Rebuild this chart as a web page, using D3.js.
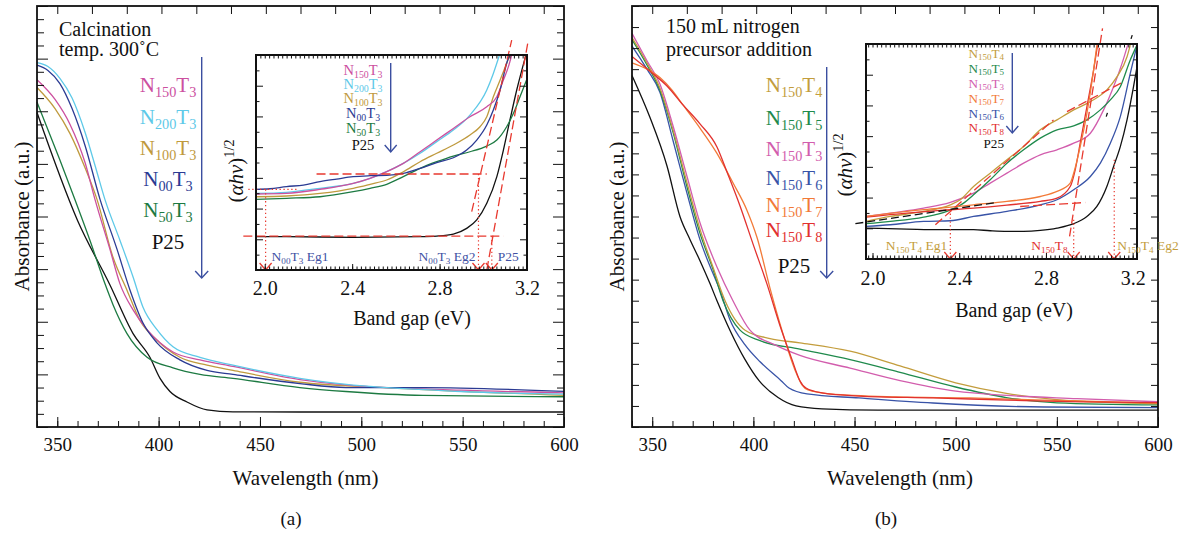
<!DOCTYPE html>
<html>
<head>
<meta charset="utf-8">
<script src="https://cdn.jsdelivr.net/npm/d3@7/dist/d3.min.js"></script>
<style>
  body { margin: 0; background: #fff; }
  svg, svg text, svg tspan { font-family: "Liberation Serif", "Times New Roman", serif; }
</style>
</head>
<body>
<svg id="chart" width="1181" height="533"></svg>
<script>
// ---- tick labels ----
const wlTicks = [350, 400, 450, 500, 550, 600];
const topTicks = [350, 367.1, 384.3, 401.4, 418.6, 435.7, 452.9, 470, 487.1, 504.3, 521.4, 538.6, 555.7, 572.9, 590];
const egTicks = [2.0, 2.4, 2.8, 3.2];

// ---- panel (a): wavelength (nm), absorbance (a.u.) ----
const a_P25 = [[340,2.39],[360,1.57],[376,1.08],[387.4,0.71],[395.7,0.53],[400.7,0.37],[405.6,0.27],[414,0.19],[423.9,0.13],[436.7,0.115],[469.7,0.114],[519,0.114],[600,0.114]];
const a_N50T3 = [[340,2.47],[351.3,2.03],[358.7,1.73],[366.1,1.42],[373.5,1.09],[377.5,0.93],[384.4,0.71],[394.3,0.53],[407.1,0.45],[420.4,0.40],[436.7,0.37],[469.7,0.30],[492.4,0.27],[530.4,0.24],[600,0.23]];
const a_N150T3 = [[340,2.64],[348.9,2.49],[356.3,2.30],[363.7,2.01],[368.6,1.73],[376,1.35],[380.9,1.09],[387.4,0.89],[394.3,0.74],[400.7,0.64],[407.1,0.57],[420.4,0.51],[436.7,0.46],[469.7,0.36],[492.4,0.32],[549.2,0.28],[600,0.26]];
const a_N100T3 = [[340,2.58],[348.9,2.42],[356.3,2.23],[363.7,1.97],[369.6,1.73],[377.5,1.29],[384.4,1.04],[390.8,0.81],[399.2,0.66],[410.5,0.53],[423.9,0.47],[436.7,0.43],[469.7,0.34],[511.7,0.30],[600,0.24]];
const a_N00T3 = [[340,2.75],[345.4,2.71],[351.3,2.61],[357.3,2.42],[363.7,2.14],[371.1,1.73],[379.5,1.35],[385.9,1.04],[392.3,0.79],[399.2,0.64],[410.5,0.51],[423.9,0.43],[436.7,0.40],[469.7,0.33],[492.4,0.30],[530.4,0.30],[600,0.27]];
const a_N200T3 = [[340,2.77],[345.4,2.74],[351.3,2.65],[357.3,2.50],[363.7,2.24],[368.6,1.99],[373.5,1.73],[380.9,1.42],[387.4,1.14],[392.3,0.91],[399.2,0.74],[407.1,0.61],[420.4,0.53],[436.7,0.47],[469.7,0.37],[549.2,0.27],[600,0.25]];

// panel (a) inset: band gap (eV), (alpha h nu)^1/2
const ai_N00T3 = [[1.96,5.25],[2.024,5.29],[2.100,5.43],[2.177,5.53],[2.253,5.75],[2.329,5.92],[2.405,6.08],[2.482,6.14],[2.558,6.16],[2.634,6.29],[2.711,6.62],[2.787,6.99],[2.863,7.31],[2.924,7.81],[2.970,8.46],[3.016,9.44],[3.046,10.42],[3.077,11.72],[3.107,13.46],[3.119,14.0]];
const ai_N150T3 = [[1.96,4.95],[2.100,4.99],[2.253,5.25],[2.405,5.64],[2.482,5.97],[2.558,6.40],[2.634,6.94],[2.711,7.70],[2.787,8.46],[2.863,9.22],[2.939,9.98],[3.016,10.63],[3.062,11.28],[3.092,12.37],[3.115,13.24],[3.130,14.0]];
const ai_N200T3 = [[1.96,4.99],[2.100,5.06],[2.253,5.32],[2.405,5.64],[2.482,5.97],[2.558,6.40],[2.634,6.94],[2.711,7.60],[2.787,8.36],[2.863,9.11],[2.939,10.09],[3.016,11.72],[3.046,12.80],[3.074,14.0]];
const ai_N100T3 = [[1.96,4.77],[2.100,4.82],[2.253,4.99],[2.405,5.32],[2.482,5.58],[2.558,5.86],[2.634,6.40],[2.711,7.05],[2.787,7.60],[2.863,8.14],[2.939,8.79],[2.985,9.33],[3.016,9.98],[3.046,11.28],[3.077,12.37],[3.107,13.46],[3.122,14.0]];
const ai_N50T3 = [[1.96,4.60],[2.100,4.67],[2.253,4.77],[2.405,5.10],[2.482,5.32],[2.558,5.58],[2.634,6.08],[2.711,6.62],[2.787,7.05],[2.863,7.42],[2.939,7.70],[3.016,8.07],[3.062,8.46],[3.107,9.33],[3.138,10.20],[3.168,11.28],[3.198,12.37]];
const ai_P25 = [[1.96,2.17],[2.100,2.17],[2.405,2.13],[2.711,2.17],[2.787,2.21],[2.863,2.34],[2.924,2.71],[2.970,3.26],[3.016,4.34],[3.062,6.08],[3.092,7.81],[3.122,9.77],[3.153,11.72],[3.195,14.0]];
const ai_dashed = [[[1.902,2.21],[3.092,2.21]], [[2.237,6.25],[3.016,6.25]], [[2.947,3.80],[3.130,14.97]], [[3.016,0],[3.206,14.97]]];
const ai_dotted = [[[1.925,5.25],[2.146,5.25]], [[2.004,5.25],[2.004,0]], [[2.978,6.25],[2.978,0]], [[3.039,2.21],[3.039,0]]];
const ai_eg = [2.004, 2.978, 3.039];

// ---- panel (b) ----
const b_P25 = [[340,1.67],[348.9,1.47],[357.3,1.24],[363.7,1.00],[368.7,0.89],[373.6,0.79],[378.6,0.68],[382,0.60],[388.4,0.46],[395.9,0.32],[402.8,0.22],[412.2,0.14],[421.1,0.10],[433.9,0.086],[461.6,0.08],[600,0.08]];
const b_N150T6 = [[340,1.81],[347.4,1.70],[353.8,1.59],[360.3,1.36],[367.2,1.11],[373.6,0.89],[380,0.73],[383.5,0.65],[388.4,0.51],[395.9,0.39],[403.3,0.31],[413.7,0.22],[417.6,0.185],[426.5,0.157],[452.2,0.138],[488.8,0.114],[543.7,0.095],[600,0.092]];
const b_N150T5 = [[340,1.84],[347.4,1.72],[353.8,1.60],[360.3,1.40],[367.2,1.14],[373.6,0.92],[380,0.75],[385,0.60],[393.4,0.46],[403.3,0.41],[423,0.37],[447.8,0.32],[472.5,0.26],[500,0.19],[525,0.14],[550,0.115],[600,0.105]];
const b_N150T4 = [[340,1.85],[347.4,1.73],[353.8,1.61],[360.3,1.41],[367.2,1.16],[373.6,0.94],[380,0.76],[386,0.60],[395.9,0.46],[408.2,0.42],[423,0.40],[447.8,0.36],[472.5,0.29],[500,0.21],[525,0.16],[550,0.13],[600,0.11]];
const b_N150T3 = [[340,1.87],[347.4,1.74],[353.8,1.63],[360.3,1.43],[367.2,1.19],[373.6,0.97],[382,0.76],[389.9,0.60],[398.3,0.46],[410.7,0.39],[423,0.34],[447.8,0.28],[472.5,0.22],[500,0.17],[525,0.15],[560,0.135],[600,0.12]];
const b_N150T8 = [[340,1.76],[348.9,1.69],[357.3,1.62],[365.2,1.53],[373.6,1.44],[382,1.33],[387,1.21],[393.4,1.05],[399.8,0.87],[406.7,0.68],[413.2,0.48],[419.1,0.32],[423,0.22],[426,0.185],[433.9,0.162],[452.2,0.147],[488.8,0.138],[525.4,0.128],[561.9,0.119],[600,0.116]];
const b_N150T7 = [[340,1.73],[347.4,1.70],[353.8,1.66],[359.8,1.60],[365.2,1.53],[373.6,1.42],[382,1.30],[389.9,1.16],[396.8,1.03],[401.8,0.90],[408.2,0.66],[414.1,0.46],[420.6,0.27],[424,0.20],[427,0.176],[437.9,0.157],[470.5,0.143],[507.1,0.138],[543.7,0.128],[600,0.113]];

// panel (b) inset
const bi_P25 = [[1.970,2.01],[2.159,1.95],[2.313,1.91],[2.466,1.91],[2.543,1.84],[2.620,1.80],[2.697,1.80],[2.774,1.86],[2.851,2.01],[2.928,2.30],[2.989,2.77],[3.035,3.42],[3.081,4.72],[3.112,6.02],[3.143,7.32],[3.174,9.06],[3.204,11.22],[3.220,12.52]];
const bi_N150T6 = [[1.970,2.12],[2.082,2.23],[2.236,2.45],[2.359,2.49],[2.466,2.77],[2.620,3.10],[2.774,3.53],[2.851,3.86],[2.928,4.51],[3.005,5.37],[3.051,6.24],[3.097,7.54],[3.143,9.27],[3.189,12.09],[3.220,13.93]];
const bi_N150T3 = [[1.970,2.77],[2.082,2.99],[2.236,3.31],[2.359,3.68],[2.466,4.29],[2.543,4.94],[2.620,5.59],[2.697,6.24],[2.774,6.78],[2.851,7.11],[2.928,7.54],[3.005,8.19],[3.066,9.71],[3.112,11.22],[3.151,12.74],[3.177,13.93]];
const bi_N150T5 = [[1.970,2.30],[2.082,2.45],[2.236,2.73],[2.343,3.10],[2.420,3.64],[2.466,4.18],[2.543,5.16],[2.620,6.24],[2.697,7.11],[2.774,7.87],[2.851,8.41],[2.928,8.67],[2.989,9.06],[3.051,9.71],[3.097,10.36],[3.143,11.22],[3.189,12.96],[3.220,13.93]];
const bi_N150T4 = [[1.970,2.45],[2.082,2.77],[2.236,3.10],[2.359,3.53],[2.405,3.86],[2.466,4.72],[2.543,5.59],[2.620,6.46],[2.697,7.32],[2.774,8.41],[2.851,9.06],[2.928,9.71],[3.005,10.25],[3.081,11.01],[3.128,11.87],[3.174,13.17],[3.189,13.93]];
const bi_N150T7 = [[1.970,2.77],[2.159,3.10],[2.313,3.31],[2.466,3.53],[2.620,3.75],[2.774,4.07],[2.851,4.40],[2.912,4.94],[2.928,5.59],[2.958,7.32],[2.989,9.49],[3.020,12.31],[3.035,13.93]];
const bi_N150T8 = [[1.970,2.73],[2.159,2.99],[2.313,3.16],[2.466,3.31],[2.620,3.51],[2.774,3.75],[2.851,3.96],[2.912,4.72],[2.935,5.81],[2.958,7.54],[2.989,9.92],[3.020,12.31],[3.038,13.93]];
const bi_dashed = [[[2.290,2.23],[2.835,9.06]], [[2.897,9.60],[3.159,11.55]], [[2.909,1.47],[3.061,15.02]], [[2.681,3.42],[2.981,3.68]]];
const bi_blackDashed = [[1.921,2.30],[2.574,3.68]];
const bi_blackTangent = [[3.078,9.27],[3.198,14.58]];
const bi_dotted = [[[2.359,3.21],[2.359,0]], [[2.928,2.56],[2.928,0]], [[3.115,6.46],[3.115,0]]];
const bi_eg = [2.359, 2.928, 3.115];

// ---- colours ----
const cMag = '#cc509f', cCyan = '#5ec9e8', cGold = '#bf9a3e', cNavy = '#2b3b93', cGreen = '#1d7a42', cBlack = '#111';
const cT4 = '#c39d3d', cT5 = '#1f8a4c', cT3 = '#d25dad', cT6 = '#3853a7', cT7 = '#f27a38', cT8 = '#e2312f';
const cRed = '#e8392f', cArrow = '#3b4fa0';
const serif = '"Liberation Serif", "Times New Roman", serif';

const svg = d3.select('#chart').style('font-family', serif);

// text with _{sub}, ^{sup}, ~{italic}
function rich(text, label, fs) {
  const re = /([_^~])\{([^}]*)\}|([^_^~]+)/g;
  let m, off = 0;
  text.style('font-family', serif);
  while ((m = re.exec(label)) !== null) {
    let shift = 0, size = fs, italic = false, t = m[3];
    if (m[1] === '_') { shift = fs * 0.22; size = fs * 0.68; t = m[2]; }
    else if (m[1] === '^') { shift = -fs * 0.42; size = fs * 0.68; t = m[2]; }
    else if (m[1] === '~') { italic = true; t = m[2]; }
    text.append('tspan').attr('dy', shift - off).style('font-size', size + 'px')
      .style('font-style', italic ? 'italic' : null).text(t);
    off = shift;
  }
}

function label(g, x, y, str, size, anchor) {
  return g.append('text').attr('x', x).attr('y', y).attr('text-anchor', anchor || 'start')
    .style('font-family', serif).style('font-size', size + 'px').attr('fill', '#111').text(str);
}

function arrowDown(g, x, ya, yb, color, hw, hh) {
  g.append('line').attr('x1', x).attr('x2', x).attr('y1', ya).attr('y2', yb)
    .attr('stroke', color).attr('stroke-width', 1.4);
  g.append('path').attr('d', `M${x - hw},${yb - hh}L${x},${yb}L${x + hw},${yb - hh}`)
    .attr('fill', 'none').attr('stroke', color).attr('stroke-width', 1.4);
}

function noDomain(s) { s.select('.domain').remove(); s.attr('color', '#111').attr('font-family', null); }

function drawMain(cfg) {
  const g = svg.append('g');
  const x = cfg.x, y = cfg.y;
  const [x0, x1] = x.range(), [y1, y0] = y.range();
  const line = d3.line().x(d => x(d[0])).y(d => y(d[1])).curve(d3.curveMonotoneX);
  g.selectAll(null).data(cfg.series).join('path')
    .attr('d', d => line(d.values)).attr('fill', 'none')
    .attr('stroke', d => d.color).attr('stroke-width', 1.3);

  // ticks
  g.append('g').attr('transform', `translate(0,${y1})`)
    .call(d3.axisBottom(x).tickValues(d3.range(340, 601, 10)).tickSize(-6).tickFormat('')).call(noDomain);
  const bx = g.append('g').attr('transform', `translate(0,${y1})`)
    .call(d3.axisBottom(x).tickValues(wlTicks).tickSize(-10).tickPadding(11).tickFormat(d3.format('d'))).call(noDomain);
  bx.selectAll('text').style('font-family', serif).style('font-size', '19px').attr('fill', '#111');
  g.append('g').attr('transform', `translate(0,${y0})`)
    .call(d3.axisTop(x).tickValues(topTicks).tickSize(-8).tickFormat('')).call(noDomain);
  const yt = d3.range(0, y.domain()[1] + 1e-6, 0.1);
  const isMajor = d => cfg.yMajor && Math.abs(d / cfg.yMajor - Math.round(d / cfg.yMajor)) < 1e-6;
  g.append('g').attr('transform', `translate(${x0},0)`)
    .call(d3.axisLeft(y).tickValues(yt).tickSize(-7).tickFormat('')).call(noDomain)
    .selectAll('.tick line').attr('x2', d => isMajor(d) ? 11 : 7);
  g.append('g').attr('transform', `translate(${x1},0)`)
    .call(d3.axisRight(y).tickValues(yt).tickSize(-7).tickFormat('')).call(noDomain)
    .selectAll('.tick line').attr('x2', d => isMajor(d) ? -11 : -7);
  g.append('rect').attr('x', x0).attr('y', y0).attr('width', x1 - x0).attr('height', y1 - y0)
    .attr('fill', 'none').attr('stroke', '#111').attr('stroke-width', 1.8);

  // labels
  label(g, (x0 + x1) / 2 + cfg.xLabelDx, 485, 'Wavelength (nm)', 21, 'middle');
  label(g, 0, 0, 'Absorbance (a.u.)', 21, 'middle')
    .attr('transform', `translate(${cfg.yLabelX},${(y0 + y1) / 2}) rotate(-90)`);
  label(g, cfg.panelX, 525, cfg.panel, 19, 'middle');
  cfg.title.forEach((t, i) => label(g, cfg.titleX, cfg.titleY[i], t, 20));
  cfg.legend.forEach((lab, i) => {
    const t = g.append('text').attr('x', cfg.legendX).attr('y', cfg.legendY[i])
      .attr('text-anchor', 'middle').attr('fill', cfg.legendColors[i]);
    rich(t, lab, 21);
  });
  arrowDown(g, cfg.arrow[0], cfg.arrow[1], cfg.arrow[2], cArrow, 6.5, 7);
}

function drawInset(cfg) {
  const g = svg.append('g');
  const x = cfg.x, y = cfg.y;
  const [x0, x1] = x.range(), [y1, y0] = y.range();
  g.append('rect').attr('x', x0).attr('y', y0).attr('width', x1 - x0).attr('height', y1 - y0).attr('fill', '#fff');
  const line = d3.line().x(d => x(d[0])).y(d => y(d[1])).curve(d3.curveMonotoneX);
  const straight = d3.line().x(d => x(d[0])).y(d => y(d[1]));
  g.selectAll(null).data(cfg.series).join('path')
    .attr('d', d => line(d.values)).attr('fill', 'none')
    .attr('stroke', d => d.color).attr('stroke-width', 1.3);
  (cfg.blackDashed || []).forEach(seg => g.append('path').attr('d', straight(seg)).attr('fill', 'none')
    .attr('stroke', '#111').attr('stroke-width', 1.3).attr('stroke-dasharray', '8,4'));
  if (cfg.blackTangent) {
    const p = g.append('path').attr('d', straight(cfg.blackTangent)).attr('fill', 'none')
      .attr('stroke', '#111').attr('stroke-width', 1.3);
    const L = p.node().getTotalLength();
    p.attr('stroke-dasharray', `4 ${L - 8} 4`);
  }
  cfg.dashed.forEach(seg => g.append('path').attr('d', straight(seg)).attr('fill', 'none')
    .attr('stroke', cRed).attr('stroke-width', 1.3).attr('stroke-dasharray', '9,4'));
  cfg.dotted.forEach(seg => g.append('path').attr('d', straight(seg)).attr('fill', 'none')
    .attr('stroke', cRed).attr('stroke-width', 1.2).attr('stroke-dasharray', '1.3,2.6'));
  cfg.eg.forEach(e => g.append('path')
    .attr('d', `M${x(e) - 6},${y1 - 7}L${x(e)},${y1}L${x(e) + 6},${y1 - 7}`)
    .attr('fill', 'none').attr('stroke', cRed).attr('stroke-width', 1.3));

  // ticks
  const d0 = x.domain()[0];
  const fine = d3.range(Math.ceil(d0 / 0.02) * 0.02, 3.2201, 0.02).filter(v => v <= x.domain()[1] + 1e-6);
  g.append('g').attr('transform', `translate(0,${y1})`)
    .call(d3.axisBottom(x).tickValues(fine).tickSize(-3.5).tickFormat('')).call(noDomain);
  g.append('g').attr('transform', `translate(0,${y0})`)
    .call(d3.axisTop(x).tickValues(fine).tickSize(-3.5).tickFormat('')).call(noDomain);
  const lab = g.append('g').attr('transform', `translate(0,${y1})`)
    .call(d3.axisBottom(x).tickValues(egTicks).tickSize(-6).tickPadding(cfg.tickPad).tickFormat(d3.format('.1f'))).call(noDomain);
  lab.selectAll('text').style('font-family', serif).style('font-size', '20px').attr('fill', '#111');
  const yt = d3.range(0, 14.01, 1);
  g.append('g').attr('transform', `translate(${x0},0)`)
    .call(d3.axisLeft(y).tickValues(yt).tickSize(-3.5).tickFormat('')).call(noDomain)
    .selectAll('.tick line').attr('x2', d => d % 2 === 0 ? 7 : 3.5);
  g.append('g').attr('transform', `translate(${x1},0)`)
    .call(d3.axisRight(y).tickValues(yt).tickSize(-3.5).tickFormat('')).call(noDomain)
    .selectAll('.tick line').attr('x2', d => d % 2 === 0 ? -7 : -3.5);
  g.append('rect').attr('x', x0).attr('y', y0).attr('width', x1 - x0).attr('height', y1 - y0)
    .attr('fill', 'none').attr('stroke', '#111').attr('stroke-width', 2);

  label(g, cfg.xLabel[0], cfg.xLabel[1], 'Band gap (eV)', 20, 'middle');
  const yl = g.append('text').attr('transform', `translate(${cfg.yLabel[0]},${cfg.yLabel[1]}) rotate(-90)`)
    .attr('text-anchor', 'middle').attr('fill', '#111');
  rich(yl, '(~{αhν})^{1/2}', 21);

  cfg.legend.forEach((labTxt, i) => {
    const t = g.append('text').attr('x', cfg.legendX).attr('y', cfg.legendY[i])
      .attr('text-anchor', cfg.legendAnchor).attr('fill', cfg.legendColors[i]);
    rich(t, labTxt, cfg.legendSize);
  });
  cfg.notes.forEach(n => {
    const t = g.append('text').attr('x', x(n.at) + n.dx).attr('y', y1 - 9)
      .attr('text-anchor', n.anchor).attr('fill', n.color);
    rich(t, n.text, 13.5);
  });
  arrowDown(g, cfg.arrow[0], cfg.arrow[1], cfg.arrow[2], cArrow, 6, 7);
}

// ---- panel (a) ----
const xA = d3.scaleLinear().domain([340, 600]).range([37, 564]);
const yA = d3.scaleLinear().domain([0, 3.2]).range([427, 6]);
drawMain({
  x: xA, y: yA, yMajor: 0.4,
  series: [
    { color: cBlack, values: a_P25 }, { color: cGreen, values: a_N50T3 },
    { color: cGold, values: a_N100T3 }, { color: cMag, values: a_N150T3 },
    { color: cNavy, values: a_N00T3 }, { color: cCyan, values: a_N200T3 }
  ],
  xLabelDx: 5, yLabelX: 29, panel: '(a)', panelX: 291,
  title: ['Calcination', 'temp. 300˚C'], titleX: 59, titleY: [36, 56],
  legend: ['N_{150}T_{3}', 'N_{200}T_{3}', 'N_{100}T_{3}', 'N_{00}T_{3}', 'N_{50}T_{3}', 'P25'],
  legendColors: [cMag, cCyan, cGold, cNavy, cGreen, cBlack],
  legendX: 168, legendY: [92, 124, 155, 186, 217, 249],
  arrow: [201.7, 57, 278]
});
drawInset({
  x: d3.scaleLinear().domain([1.96, 3.2]).range([256, 527]),
  y: d3.scaleLinear().domain([0, 14]).range([270, 55]),
  series: [
    { color: cBlack, values: ai_P25 }, { color: cGreen, values: ai_N50T3 },
    { color: cGold, values: ai_N100T3 }, { color: cCyan, values: ai_N200T3 },
    { color: cMag, values: ai_N150T3 }, { color: cNavy, values: ai_N00T3 }
  ],
  dashed: ai_dashed, dotted: ai_dotted, eg: ai_eg, tickPad: 11,
  xLabel: [412, 325], yLabel: [243, 171],
  legend: ['N_{150}T_{3}', 'N_{200}T_{3}', 'N_{100}T_{3}', 'N_{00}T_{3}', 'N_{50}T_{3}', 'P25'],
  legendColors: [cMag, cCyan, cGold, cNavy, cGreen, cBlack], legendSize: 14.5,
  legendX: 363, legendY: [74.5, 88.5, 103, 118, 133, 149.5], legendAnchor: 'middle',
  notes: [
    { at: ai_eg[0], dx: 6, anchor: 'start', color: '#3f52a4', text: 'N_{00}T_{3} Eg1' },
    { at: ai_eg[1], dx: -3, anchor: 'end', color: '#3f52a4', text: 'N_{00}T_{3} Eg2' },
    { at: ai_eg[2], dx: 6, anchor: 'start', color: '#3f52a4', text: 'P25' }
  ],
  arrow: [390.7, 63, 152]
});

// ---- panel (b) ----
const xB = d3.scaleLinear().domain([340, 600]).range([632, 1158]);
const yB = d3.scaleLinear().domain([0, 2.0]).range([427, 6]);
drawMain({
  x: xB, y: yB, yMajor: null,
  series: [
    { color: cBlack, values: b_P25 }, { color: cT6, values: b_N150T6 },
    { color: cT5, values: b_N150T5 }, { color: cT4, values: b_N150T4 },
    { color: cT3, values: b_N150T3 }, { color: cT7, values: b_N150T7 },
    { color: cT8, values: b_N150T8 }
  ],
  xLabelDx: 5, yLabelX: 624, panel: '(b)', panelX: 886,
  title: ['150 mL nitrogen', 'precursor addition'], titleX: 666, titleY: [33, 56],
  legend: ['N_{150}T_{4}', 'N_{150}T_{5}', 'N_{150}T_{3}', 'N_{150}T_{6}', 'N_{150}T_{7}', 'N_{150}T_{8}', 'P25'],
  legendColors: [cT4, cT5, cT3, cT6, cT7, cT8, cBlack],
  legendX: 794, legendY: [92, 125, 156, 185, 212, 237, 273],
  arrow: [826.7, 67, 278]
});
drawInset({
  x: d3.scaleLinear().domain([1.97, 3.22]).range([866, 1137]),
  y: d3.scaleLinear().domain([0, 14]).range([259, 44]),
  series: [
    { color: cBlack, values: bi_P25 }, { color: cT6, values: bi_N150T6 },
    { color: cT3, values: bi_N150T3 }, { color: cT5, values: bi_N150T5 },
    { color: cT4, values: bi_N150T4 }, { color: cT8, values: bi_N150T8 },
    { color: cT7, values: bi_N150T7 }
  ],
  blackDashed: [bi_blackDashed], blackTangent: bi_blackTangent,
  dashed: bi_dashed, dotted: bi_dotted, eg: bi_eg, tickPad: 12,
  xLabel: [1014, 317], yLabel: [852, 165],
  legend: ['N_{150}T_{4}', 'N_{150}T_{5}', 'N_{150}T_{3}', 'N_{150}T_{7}', 'N_{150}T_{6}', 'N_{150}T_{8}', 'P25'],
  legendColors: [cT4, cT5, cT3, cT7, cT6, cT8, cBlack], legendSize: 13.2,
  legendX: 1004, legendY: [57.5, 72.5, 87.5, 102.5, 117.5, 132, 147.5], legendAnchor: 'end',
  notes: [
    { at: bi_eg[0], dx: -3, anchor: 'end', color: cT4, text: 'N_{150}T_{4} Eg1' },
    { at: bi_eg[1], dx: -6, anchor: 'end', color: cT8, text: 'N_{150}T_{8}' },
    { at: bi_eg[2], dx: 3, anchor: 'start', color: cT4, text: 'N_{150}T_{4} Eg2' }
  ],
  arrow: [1012.3, 53, 133]
});
</script>
</body>
</html>
